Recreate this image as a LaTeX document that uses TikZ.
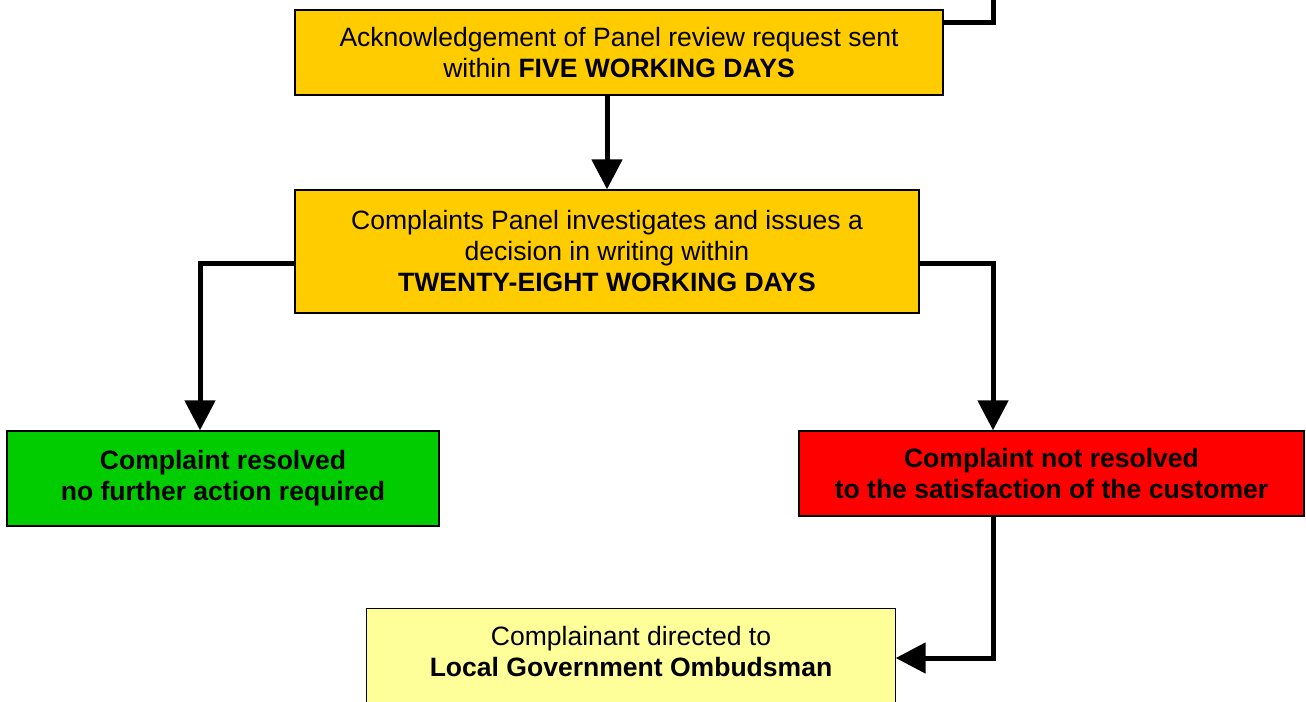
\documentclass[tikz,border=0pt]{standalone}
\usepackage{fontspec}
\setmainfont{Liberation Sans}
\usetikzlibrary{arrows.meta,backgrounds}
\definecolor{gold}{HTML}{FFCC00}
\definecolor{okgreen}{HTML}{00CC00}
\definecolor{badred}{HTML}{FF0000}
\definecolor{paleyellow}{HTML}{FFFF99}
\tikzset{
  box/.style={draw=black, line width=1pt, inner sep=0pt, align=center,
    font=\fontsize{19.9}{23.25}\selectfont},
  conn/.style={line width=3.75pt, line join=miter},
  arr/.style={conn, -{Triangle[length=22.5pt,width=22.5pt]}}
}
\begin{document}
\begin{tikzpicture}[x=0.75pt,y=-0.75pt]
\clip (0,0) rectangle (1306,701);
\node[box, fill=gold, minimum width=486pt, minimum height=63.75pt] (T) at (619,52.5)
  {Acknowledgement of Panel review request sent\\within \textbf{FIVE WORKING DAYS}};
\node[box, fill=gold, minimum width=468pt, minimum height=92.25pt] (M) at (607,251.5)
  {Complaints Panel investigates and issues a\\decision in writing within\\\textbf{TWENTY-EIGHT WORKING DAYS}};
\node[box, fill=okgreen, minimum width=324pt, minimum height=71.25pt] (G) at (223,478.5)
  {\textbf{Complaint resolved}\\\textbf{no further action required}};
\node[box, fill=badred, minimum width=378.75pt, minimum height=63.75pt] (R) at (1051.5,473.5)
  {\textbf{Complaint not resolved}\\\textbf{to the satisfaction of the customer}};
\node[box, draw=none, minimum width=396pt, minimum height=63.75pt] (Y) at (631,651.5)
  {Complainant directed to\\\textbf{Local Government Ombudsman}};
\begin{scope}[on background layer]
  \draw[line width=1pt, fill=paleyellow] (Y.north west) rectangle ([yshift=-40pt]Y.south east);
\end{scope}
% connector bend points
\coordinate (in0) at (993,-20);
\coordinate (b0) at (993,22);
\coordinate (bl) at (200,263);
\coordinate (br) at (993,263);
\coordinate (b3) at (993,658);
\draw[conn] (in0) -- (b0) -- (T.east |- b0);
\draw[arr] (T.south -| 607,0) -- (M.north -| 607,0);
\draw[arr] (M.west |- bl) -- (bl) -- (G.north -| bl);
\draw[arr] (M.east |- br) -- (br) -- (R.north -| br);
\draw[arr] (R.south -| b3) -- (b3) -- (Y.east |- b3);
\end{tikzpicture}
\end{document}
